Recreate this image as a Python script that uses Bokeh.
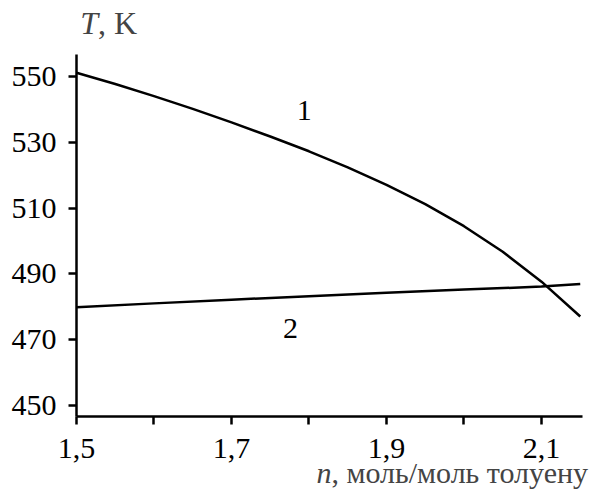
from bokeh.plotting import figure
from bokeh.models import Range1d, FixedTicker, Label, LinearAxis
from bokeh.embed import file_html
from bokeh.resources import INLINE

# Data
n1 = [1.50, 1.55, 1.60, 1.65, 1.70, 1.75, 1.80, 1.85, 1.90, 1.95, 2.00, 2.05, 2.10, 2.15]
T1 = [551.2, 547.8, 544.1, 540.2, 536.1, 531.8, 527.3, 522.4, 517.1, 511.2, 504.5, 496.7, 487.6, 477.0]
n2 = [1.50, 1.60, 1.70, 1.80, 1.90, 2.00, 2.10, 2.15]
T2 = [479.8, 481.0, 482.1, 483.2, 484.2, 485.2, 486.1, 486.9]

x_ticks = [1.5, 1.6, 1.7, 1.8, 1.9, 2.0, 2.1]
x_tick_labels = ["1,5", "", "1,7", "", "1,9", "", "2,1"]
y_ticks = [450, 470, 490, 510, 530, 550]

x_axis_bounds = (1.5, 2.1529)
y_axis_bounds = (446.56, 556.76)

curve_labels = ["1", "2"]
curve_label_x = [1.794, 1.776]
curve_label_y = [539.6, 473.2]

FONT = "Liberation Serif"
FS = "30px"
TITLE_FS = "32px"

p = figure(width=593, height=489, output_backend="svg", toolbar_location=None,
           x_range=Range1d(1.40194, 2.16710), y_range=Range1d(424.34, 573.20),
           x_axis_type=None, y_axis_type=None,
           min_border_left=0, min_border_right=0, min_border_top=0, min_border_bottom=0)
p.outline_line_color = None
p.grid.visible = False
p.background_fill_color = "white"
p.border_fill_color = "white"

p.line(n1, T1, line_color="black", line_width=2.5)
p.line(n2, T2, line_color="black", line_width=2.5)

xa = LinearAxis(fixed_location=y_axis_bounds[0], bounds=x_axis_bounds,
                ticker=FixedTicker(ticks=x_ticks),
                major_label_overrides={t: l for t, l in zip(x_ticks, x_tick_labels)})
ya = LinearAxis(fixed_location=x_axis_bounds[0], bounds=y_axis_bounds,
                ticker=FixedTicker(ticks=y_ticks))

for ax in (xa, ya):
    ax.axis_line_width = 2.5
    ax.axis_line_color = "black"
    ax.major_tick_line_width = 2.5
    ax.major_tick_line_color = "black"
    ax.major_tick_in = 0
    ax.major_tick_out = 8
    ax.minor_tick_line_color = None
    ax.major_label_text_font = FONT
    ax.major_label_text_font_size = FS
    ax.major_label_text_color = "black"
xa.major_label_standoff = 14
ya.major_label_standoff = 12
p.add_layout(xa, "below")
p.add_layout(ya, "left")

for t, x, y in zip(curve_labels, curve_label_x, curve_label_y):
    p.add_layout(Label(x=x, y=y, text=t, text_font=FONT, text_font_size=FS,
                       text_align="center", text_baseline="middle", text_color="black"))

# axis titles
p.add_layout(Label(x=1.5277, y=566.5, text="T", text_font=FONT, text_font_size=TITLE_FS,
                   text_font_style="italic", text_align="right", text_baseline="middle"))
p.add_layout(Label(x=1.5277, y=566.5, text=", K", text_font=FONT, text_font_size=TITLE_FS,
                   text_align="left", text_baseline="middle"))
p.add_layout(Label(x=1.829, y=429.5, text="n", text_font=FONT, text_font_size=FS,
                   text_font_style="italic", text_align="right", text_baseline="middle"))
p.add_layout(Label(x=1.829, y=429.5, text=", моль/моль толуену", text_font=FONT, text_font_size=FS,
                   text_align="left", text_baseline="middle"))

open("out.html", "w").write(file_html(p, INLINE))
